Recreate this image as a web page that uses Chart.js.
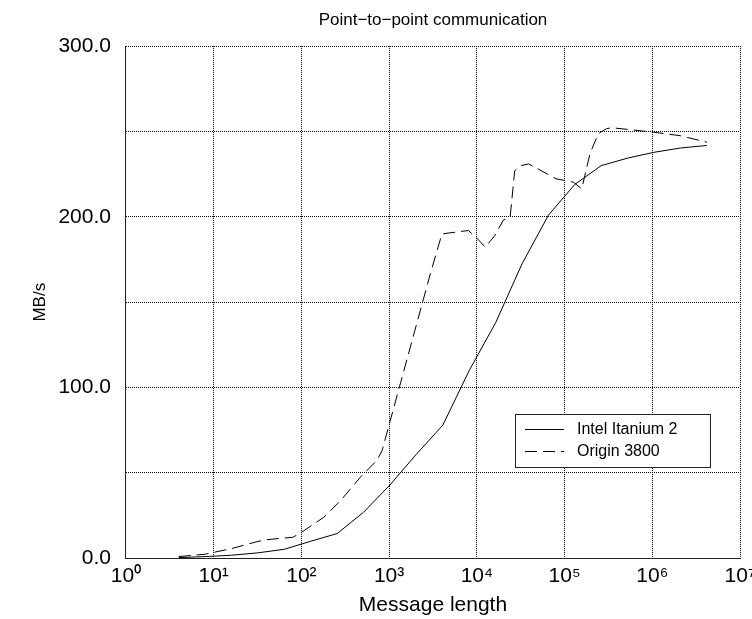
<!DOCTYPE html>
<html>
<head>
<meta charset="utf-8">
<script src="https://cdn.jsdelivr.net/npm/chart.js@4.4.1/dist/chart.umd.min.js"></script>
<style>
  body { margin: 0; background: #fff; }
  #wrap { width: 752px; height: 619px; }
</style>
</head>
<body>
<div id="wrap"><canvas id="p2p" width="752" height="619"></canvas></div>
<script>
// message sizes in bytes and bandwidth in MB/s
var itaniumSizes = [4, 8, 16, 32, 64, 128, 256, 512, 1024, 2048, 4096, 8192, 16384,
  32768, 65536, 131072, 262144, 524288, 1048576, 2097152, 4194304];
var itaniumMBs = [0.4, 1.0, 1.8, 3.2, 5.3, 10, 14.5, 27, 43, 61, 78, 110, 138,
  172.5, 201, 219, 230, 234.4, 237.8, 240.3, 241.8];

var originSizes = [4, 8, 16, 32, 40, 80, 100, 180, 280, 470, 730, 830, 2950, 4000,
  8000, 10000, 12500, 16000, 20000, 24000, 27000, 32000, 39000, 80000, 126000,
  157000, 195000, 242000, 300000, 344000, 1020000, 2097152, 4194304];
var originMBs = [1.0, 2.4, 5.7, 9.9, 10.9, 12.3, 15.2, 24, 33.8, 47.5, 57.5, 63, 166.6, 190,
  192, 187.5, 182.2, 189, 198, 200, 227, 230, 231, 222.3, 220.3,
  216.4, 237, 248.7, 251.6, 252.2, 249.6, 247.5, 243.7];

var xExponents = [0, 1, 2, 3, 4, 5, 6, 7];
var yTicks = [0, 50, 100, 150, 200, 250, 300];
var yLabelled = [0, 100, 200, 300];

var sup = ['\u2070', '\u00b9', '\u00b2', '\u00b3', '\u2074', '\u2075', '\u2076', '\u2077'];
var FONT = '"Liberation Sans", Arial, Helvetica, sans-serif';

function toPoints(xs, ys) {
  return xs.map(function(x, i) { return { x: x, y: ys[i] }; });
}

// legend drawn as a framed box inside the plot
var boxLegend = {
  id: 'boxLegend',
  afterDatasetsDraw: function(chart) {
    var ctx = chart.ctx, a = chart.chartArea;
    var bx = Math.round(a.right - 225), by = Math.round(a.bottom - 144), bw = 195, bh = 53;
    ctx.save();
    ctx.fillStyle = '#fff';
    ctx.fillRect(bx, by, bw, bh);
    ctx.strokeStyle = '#222';
    ctx.lineWidth = 1;
    ctx.strokeRect(bx + 0.5, by + 0.5, bw, bh);
    chart.data.datasets.forEach(function(ds, i) {
      var y = by + 15.5 + i * 22;
      ctx.beginPath();
      ctx.setLineDash(ds.borderDash || []);
      ctx.strokeStyle = ds.borderColor;
      ctx.moveTo(bx + 10, y);
      ctx.lineTo(bx + 49, y);
      ctx.stroke();
      ctx.setLineDash([]);
      ctx.fillStyle = '#000';
      ctx.font = '16px ' + FONT;
      ctx.textBaseline = 'middle';
      ctx.fillText(ds.label, bx + 62, y);
    });
    ctx.restore();
  }
};

new Chart(document.getElementById('p2p').getContext('2d'), {
  type: 'line',
  data: {
    datasets: [
      {
        label: 'Intel Itanium 2',
        data: toPoints(itaniumSizes, itaniumMBs),
        xAxisID: 'x',
        yAxisID: 'y',
        borderColor: '#000',
        borderWidth: 1,
        pointRadius: 0,
        tension: 0,
        fill: false
      },
      {
        label: 'Origin 3800',
        data: toPoints(originSizes, originMBs),
        xAxisID: 'x',
        yAxisID: 'y',
        borderColor: '#000',
        borderWidth: 1,
        borderDash: [12, 6],
        pointRadius: 0,
        tension: 0,
        fill: false
      }
    ]
  },
  options: {
    responsive: false,
    animation: false,
    devicePixelRatio: 1,
    layout: { padding: { left: 10, right: 12, top: 0, bottom: 1 } },
    plugins: {
      legend: { display: false },
      tooltip: { enabled: false }
    },
    scales: {
      // empty top axis, used only to centre the heading over the plot
      heading: {
        type: 'linear',
        axis: 'x',
        position: 'top',
        grid: { display: false },
        border: { display: false },
        ticks: { display: false },
        title: {
          display: true,
          text: 'Point\u2212to\u2212point communication',
          color: '#000',
          font: { family: FONT, size: 17 },
          padding: { top: 10, bottom: 7.7 }
        }
      },
      x: {
        type: 'logarithmic',
        min: 1,
        max: 1e7,
        grid: { color: '#000', lineWidth: 1, drawTicks: false, borderDash: [1, 2] },
        border: { display: true, color: '#222', dash: [1, 1] },
        afterBuildTicks: function(scale) {
          scale.ticks = xExponents.map(function(e) { return { value: Math.pow(10, e) }; });
        },
        afterFit: function(scale) {
          scale.paddingRight = 0;
          scale.paddingLeft = 0;
        },
        ticks: {
          color: '#000',
          padding: 5,
          maxRotation: 0,
          autoSkip: false,
          font: { family: FONT, size: 21 },
          callback: function(v) {
            return '10' + sup[Math.round(Math.log10(v))];
          }
        },
        title: {
          display: true,
          text: 'Message length',
          color: '#000',
          font: { family: FONT, size: 21 },
          padding: { top: -0.7, bottom: 0 }
        }
      },
      y: {
        min: 0,
        max: 300,
        grid: { color: '#000', lineWidth: 1, drawTicks: false, borderDash: [1, 2] },
        border: { display: true, color: '#222', dash: [1, 1] },
        afterBuildTicks: function(scale) {
          scale.ticks = yTicks.map(function(v) { return { value: v }; });
        },
        afterFit: function(scale) {
          scale.paddingTop = 0;
          scale.paddingBottom = 0;
        },
        ticks: {
          color: '#000',
          padding: 15,
          font: { family: FONT, size: 21 },
          callback: function(v) {
            return yLabelled.indexOf(v) >= 0 ? v.toFixed(1) : '';
          }
        },
        title: {
          display: true,
          text: 'MB/s',
          color: '#000',
          font: { family: FONT, size: 17 },
          padding: { top: 20, bottom: -7 }
        }
      }
    }
  },
  plugins: [boxLegend]
});
</script>
</body>
</html>
